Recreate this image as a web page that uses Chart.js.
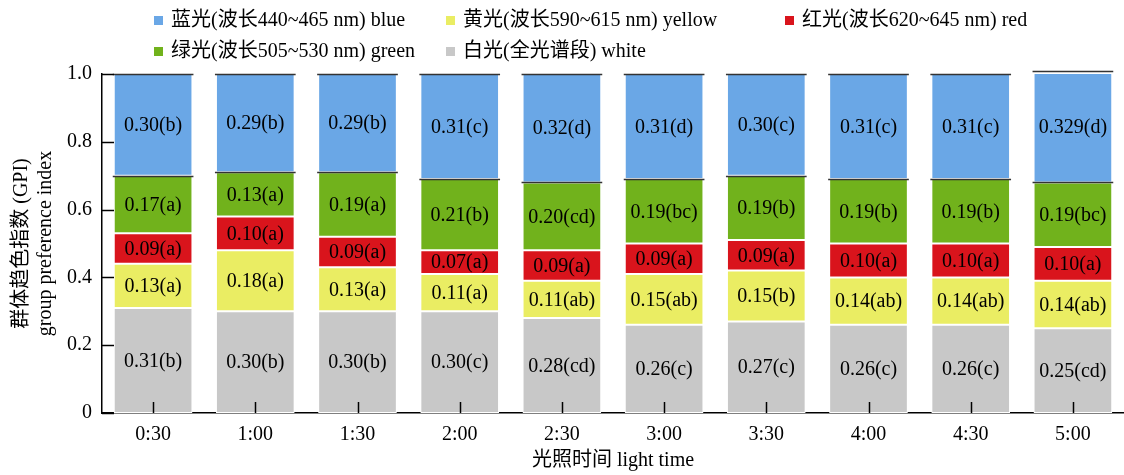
<!DOCTYPE html>
<html>
<head>
<meta charset="utf-8">
<script src="https://cdn.jsdelivr.net/npm/chart.js@4/dist/chart.umd.min.js"></script>
<style>
  html, body { margin: 0; padding: 0; background: #fff; }
  #wrap { position: relative; width: 1124px; height: 475px; }
  #chart { position: absolute; left: 0; top: 0; }
  .legend { position: absolute; left: 0; top: 0; width: 1124px; height: 70px;
            font: 20px "Liberation Serif", "Noto Sans CJK SC", serif; color: #000; }
  .item { position: absolute; white-space: nowrap; line-height: 24px; }
  .sw { display: inline-block; width: 9px; height: 9px; margin-right: 8px; vertical-align: 1px; }
</style>
</head>
<body>
<div id="wrap">
  <canvas id="chart" width="1124" height="475"></canvas>
  <div class="legend" id="legend"></div>
</div>
<script>
// Light-time groups
const categories = ['0:30', '1:00', '1:30', '2:00', '2:30', '3:00', '3:30', '4:00', '4:30', '5:00'];

// Group preference index per light colour, with significance letters
const whiteValues  = [0.31, 0.30, 0.30, 0.30, 0.28, 0.26, 0.27, 0.26, 0.26, 0.25];
const whiteLetters = ['b', 'b', 'b', 'c', 'cd', 'c', 'c', 'c', 'c', 'cd'];
const yellowValues  = [0.13, 0.18, 0.13, 0.11, 0.11, 0.15, 0.15, 0.14, 0.14, 0.14];
const yellowLetters = ['a', 'a', 'a', 'a', 'ab', 'ab', 'b', 'ab', 'ab', 'ab'];
const redValues  = [0.09, 0.10, 0.09, 0.07, 0.09, 0.09, 0.09, 0.10, 0.10, 0.10];
const redLetters = ['a', 'a', 'a', 'a', 'a', 'a', 'a', 'a', 'a', 'a'];
const greenValues  = [0.17, 0.13, 0.19, 0.21, 0.20, 0.19, 0.19, 0.19, 0.19, 0.19];
const greenLetters = ['a', 'a', 'a', 'b', 'cd', 'bc', 'b', 'b', 'b', 'bc'];
const blueValues  = [0.30, 0.29, 0.29, 0.31, 0.32, 0.31, 0.30, 0.31, 0.31, 0.329];
const blueLetters = ['b', 'b', 'b', 'c', 'd', 'd', 'c', 'c', 'c', 'd'];

// Axis ticks
const yTickValues = [0, 0.2, 0.4, 0.6, 0.8, 1.0];

const FONT = '"Liberation Serif", "Noto Sans CJK SC", serif';

const series = [
  { key: 'white',  label: '白光(全光谱段) white',           color: '#C8C8C8', values: whiteValues,  letters: whiteLetters },
  { key: 'yellow', label: '黄光(波长590~615 nm) yellow',    color: '#EAED63', values: yellowValues, letters: yellowLetters },
  { key: 'red',    label: '红光(波长620~645 nm) red',       color: '#D9141C', values: redValues,    letters: redLetters },
  { key: 'green',  label: '绿光(波长505~530 nm) green',     color: '#71B21C', values: greenValues,  letters: greenLetters },
  { key: 'blue',   label: '蓝光(波长440~465 nm) blue',      color: '#6AA7E6', values: blueValues,   letters: blueLetters }
];

// Legend layout: two rows on shared columns
const legendRows = [
  [['blue', 154], ['yellow', 446], ['red', 785]],
  [['green', 154], ['white', 446]]
];
const legendRowTop = [7, 38];
const legendEl = document.getElementById('legend');
legendRows.forEach((row, r) => {
  row.forEach(([key, x]) => {
    const s = series.find(d => d.key === key);
    const div = document.createElement('div');
    div.className = 'item';
    div.style.left = x + 'px';
    div.style.top = legendRowTop[r] + 'px';
    div.innerHTML = '<span class="sw" style="background:' + s.color + '"></span>' + s.label;
    legendEl.appendChild(div);
  });
});

function fmtValue(v) {
  const s = String(v);
  const dec = (s.split('.')[1] || '').length;
  return dec >= 2 ? s : v.toFixed(2);
}

// Inward tick marks on both axes, segment labels and top edge lines
const decorations = {
  id: 'decorations',
  afterDatasetsDraw(chart) {
    const ctx = chart.ctx;
    const area = chart.chartArea;
    const xs = chart.scales.x, ys = chart.scales.y;
    ctx.save();

    // dark top edges of the green and blue segments
    ctx.strokeStyle = '#333';
    ctx.lineWidth = 1.5;
    [3, 4].forEach(di => {
      chart.getDatasetMeta(di).data.forEach(el => {
        const y = Math.round(el.y) + 0.5;
        ctx.beginPath();
        ctx.moveTo(el.x - el.width / 2 - 1, y);
        ctx.lineTo(el.x + el.width / 2 + 1, y);
        ctx.stroke();
      });
    });

    // segment labels
    ctx.fillStyle = '#000';
    ctx.font = '20px ' + FONT;
    ctx.textAlign = 'center';
    ctx.textBaseline = 'middle';
    series.forEach((s, di) => {
      chart.getDatasetMeta(di).data.forEach((el, i) => {
        const cy = (el.y + el.base) / 2 + 1;
        ctx.fillText(fmtValue(s.values[i]) + '(' + s.letters[i] + ')', el.x, cy);
      });
    });

    // inward ticks
    ctx.strokeStyle = '#000';
    ctx.lineWidth = 1.5;
    yTickValues.forEach(v => {
      const y = Math.round(ys.getPixelForValue(v)) + 0.5;
      ctx.beginPath();
      ctx.moveTo(area.left, y);
      ctx.lineTo(area.left + 12, y);
      ctx.stroke();
    });
    categories.forEach((c, i) => {
      const x = Math.round(xs.getPixelForValue(i)) + 0.5;
      ctx.beginPath();
      ctx.moveTo(x, area.bottom);
      ctx.lineTo(x, area.bottom - 11);
      ctx.stroke();
    });
    ctx.restore();
  }
};

new Chart(document.getElementById('chart'), {
  type: 'bar',
  data: {
    labels: categories,
    datasets: series.map(s => ({
      label: s.label,
      data: s.values,
      backgroundColor: s.color,
      borderColor: '#FFFFFF',
      borderWidth: 1,
      borderSkipped: false,
      barPercentage: 0.77,
      categoryPercentage: 1.0
    }))
  },
  options: {
    responsive: false,
    animation: false,
    events: [],
    layout: { padding: { top: 74, right: 0, bottom: 0, left: 0 } },
    plugins: {
      legend: { display: false },
      tooltip: { enabled: false }
    },
    scales: {
      x: {
        stacked: true,
        z: 1,
        grid: { display: false, drawTicks: false },
        border: { display: true, color: '#000', width: 1.5 },
        ticks: { color: '#000', font: { family: FONT, size: 20 }, padding: 10, maxRotation: 0 },
        title: {
          display: true,
          text: '光照时间 light time',
          color: '#000',
          font: { family: FONT, size: 20, lineHeight: 1.2 },
          padding: { top: 0, bottom: 2 }
        },
        afterFit(scale) { scale.height = 62; }
      },
      y: {
        stacked: true,
        z: 1,
        min: 0,
        max: 1.0,
        afterBuildTicks(scale) { scale.ticks = yTickValues.map(v => ({ value: v })); },
        grid: { display: false, drawTicks: false },
        border: { display: true, color: '#000', width: 1.5 },
        ticks: {
          color: '#000',
          font: { family: FONT, size: 20 },
          padding: 10,
          callback: v => (v === 0 ? '0' : Number(v).toFixed(1))
        },
        title: {
          display: true,
          text: ['群体趋色指数 (GPI)', 'group preference index'],
          color: '#000',
          font: { family: FONT, size: 20, lineHeight: 1.2 },
          padding: { top: 10, bottom: 0 }
        },
        afterFit(scale) { scale.width = 102; }
      }
    }
  },
  plugins: [decorations]
});
</script>
</body>
</html>
